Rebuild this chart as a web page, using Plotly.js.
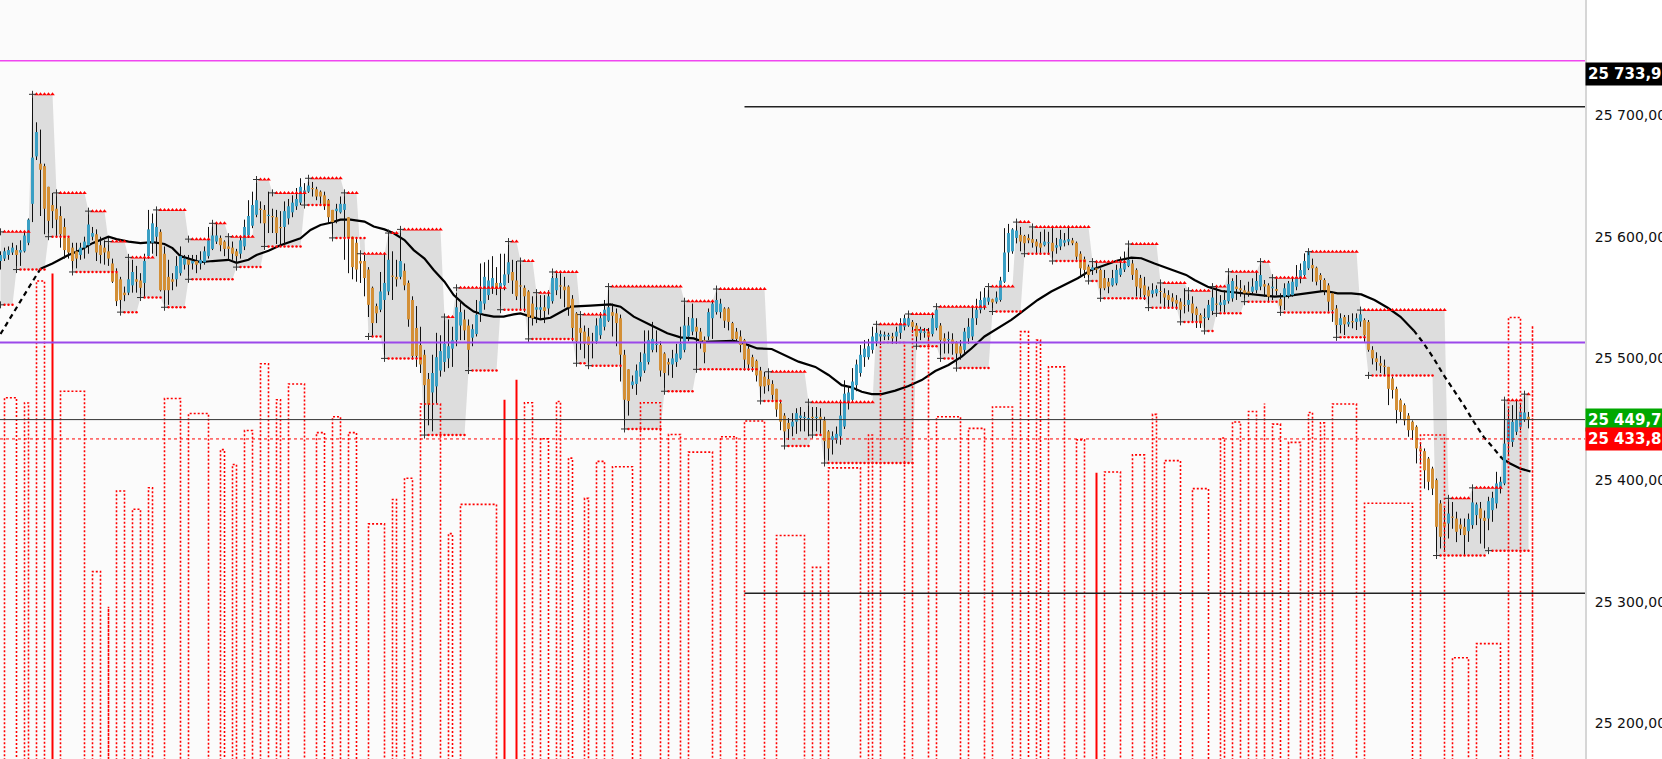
<!DOCTYPE html>
<html>
<head>
<meta charset="utf-8">
<script src="https://cdn.plot.ly/plotly-3.0.1.min.js"></script>
<style>
  html, body { margin: 0; padding: 0; background: #fff; }
  #chart { width: 1662px; height: 759px; }
</style>
</head>
<body>
<div id="chart"></div>
<script>
// one row per bar: [open, high, low, close]
var bars = [
  [25580,25588,25573,25585],[25582,25591,25580,25588],[25585,25592,25581,25589],[25587,25595,25585,25591],
  [25589,25593,25573,25585],[25587,25597,25576,25589],[25588,25604,25587,25601],[25595,25615,25593,25614],
  [25627,25717,25612,25665],[25666,25694,25663,25686],[25660,25688,25617,25655],[25658,25660,25602,25623],
  [25641,25641,25600,25613],[25626,25636,25607,25621],[25623,25636,25600,25614],[25617,25625,25591,25602],
  [25608,25615,25582,25589],[25599,25600,25582,25587],[25591,25595,25570,25580],[25588,25595,25574,25582],
  [25585,25595,25581,25591],[25591,25600,25582,25596],[25593,25621,25586,25610],[25600,25608,25597,25603],
  [25602,25606,25580,25587],[25593,25600,25578,25585],[25591,25597,25577,25587],[25588,25595,25576,25582],
  [25578,25582,25562,25563],[25570,25574,25543,25547],[25565,25567,25538,25548],[25554,25559,25547,25552],
  [25554,25584,25552,25565],[25560,25581,25554,25571],[25565,25576,25554,25563],[25564,25570,25551,25558],
  [25562,25586,25550,25580],[25584,25622,25582,25606],[25595,25619,25586,25611],[25600,25621,25584,25608],
  [25604,25606,25555,25556],[25586,25592,25542,25556],[25567,25581,25544,25556],[25565,25570,25556,25563],
  [25565,25584,25559,25576],[25570,25592,25568,25584],[25577,25585,25573,25582],[25581,25585,25565,25577],
  [25578,25585,25573,25580],[25580,25585,25570,25577],[25578,25588,25573,25581],[25579,25592,25577,25588],
  [25584,25608,25582,25597],[25590,25610,25589,25601],[25596,25612,25594,25601],[25599,25601,25588,25593],
  [25596,25597,25584,25590],[25592,25600,25581,25590],[25591,25596,25581,25586],[25588,25590,25575,25584],
  [25586,25600,25582,25597],[25592,25614,25589,25608],[25601,25630,25599,25617],[25609,25637,25607,25626],
  [25618,25647,25616,25630],[25623,25629,25611,25622],[25622,25626,25592,25611],[25617,25637,25603,25618],
  [25617,25623,25603,25616],[25616,25622,25594,25603],[25608,25621,25592,25607],[25608,25629,25593,25621],
  [25615,25631,25610,25625],[25620,25634,25616,25628],[25625,25640,25622,25631],[25628,25648,25626,25641],
  [25636,25644,25625,25638],[25637,25648,25636,25642],[25640,25645,25633,25639],[25639,25641,25630,25633],
  [25637,25638,25627,25633],[25634,25637,25622,25625],[25630,25631,25611,25616],[25622,25622,25599,25612],
  [25621,25627,25611,25623],[25620,25633,25619,25627],[25622,25636,25581,25627],[25616,25616,25570,25599],
  [25600,25600,25565,25575],[25595,25599,25563,25573],[25580,25586,25562,25578],[25580,25585,25551,25566],
  [25573,25575,25534,25544],[25558,25559,25518,25529],[25543,25545,25529,25537],[25540,25571,25538,25555],
  [25548,25586,25499,25562],[25555,25603,25552,25581],[25568,25588,25548,25567],[25567,25581,25559,25565],
  [25567,25607,25565,25580],[25572,25578,25556,25560],[25562,25564,25526,25532],[25548,25551,25499,25502],
  [25525,25543,25493,25502],[25511,25526,25488,25495],[25503,25507,25437,25478],[25483,25488,25445,25462],
  [25472,25503,25440,25488],[25477,25521,25463,25501],[25490,25519,25485,25506],[25497,25534,25489,25512],
  [25500,25532,25492,25510],[25508,25526,25493,25515],[25515,25554,25510,25542],[25527,25548,25515,25538],
  [25532,25540,25515,25523],[25527,25532,25489,25507],[25517,25528,25510,25524],[25520,25548,25518,25536],
  [25537,25578,25530,25547],[25545,25579,25540,25567],[25552,25581,25548,25564],[25558,25584,25553,25566],
  [25562,25575,25552,25557],[25558,25586,25541,25562],[25560,25586,25556,25569],[25569,25597,25562,25579],
  [25571,25581,25553,25564],[25564,25580,25548,25551],[25560,25581,25540,25559],[25558,25560,25538,25551],
  [25555,25556,25515,25534],[25545,25551,25527,25533],[25540,25553,25529,25542],[25540,25552,25532,25542],
  [25542,25552,25529,25539],[25541,25556,25536,25551],[25547,25568,25545,25566],[25556,25570,25552,25566],
  [25560,25570,25549,25559],[25559,25567,25542,25556],[25559,25560,25535,25542],[25549,25552,25514,25525],
  [25537,25538,25495,25514],[25525,25537,25507,25521],[25522,25527,25500,25512],[25518,25525,25493,25511],
  [25514,25521,25500,25513],[25514,25533,25512,25527],[25519,25538,25516,25533],[25526,25548,25523,25540],
  [25531,25559,25530,25542],[25538,25545,25518,25535],[25537,25541,25510,25529],[25533,25536,25481,25503],
  [25503,25507,25441,25466],[25491,25491,25453,25465],[25478,25486,25475,25481],[25479,25495,25470,25490],
  [25485,25505,25481,25497],[25490,25523,25488,25504],[25497,25523,25495,25515],[25507,25530,25505,25516],
  [25511,25523,25505,25512],[25511,25514,25485,25490],[25504,25505,25473,25488],[25497,25500,25486,25495],
  [25495,25507,25484,25500],[25497,25512,25493,25504],[25500,25526,25499,25512],[25507,25547,25505,25527],
  [25518,25534,25514,25527],[25522,25545,25519,25533],[25526,25533,25490,25522],[25522,25525,25508,25514],
  [25515,25518,25496,25505],[25518,25541,25515,25538],[25533,25548,25516,25545],[25538,25557,25536,25548],
  [25538,25549,25533,25545],[25541,25542,25525,25531],[25541,25542,25523,25530],[25529,25530,25514,25516],
  [25522,25525,25514,25516],[25518,25523,25505,25511],[25515,25516,25490,25499],[25508,25511,25490,25495],
  [25501,25503,25489,25493],[25498,25499,25481,25486],[25490,25493,25464,25477],[25485,25489,25471,25477],
  [25483,25489,25473,25478],[25479,25482,25466,25470],[25475,25475,25452,25458],[25463,25466,25441,25448],
  [25453,25455,25427,25440],[25447,25451,25433,25442],[25444,25455,25436,25448],[25448,25459,25438,25455],
  [25451,25460,25440,25453],[25451,25456,25440,25452],[25450,25464,25436,25451],[25452,25460,25436,25451],
  [25451,25460,25440,25452],[25452,25459,25438,25450],[25449,25452,25414,25432],[25440,25441,25416,25426],
  [25433,25440,25421,25436],[25433,25444,25430,25438],[25436,25466,25429,25453],[25444,25482,25442,25471],
  [25464,25477,25458,25472],[25466,25492,25464,25481],[25478,25499,25473,25495],[25488,25511,25485,25503],
  [25501,25515,25493,25508],[25501,25516,25499,25510],[25507,25526,25504,25518],[25514,25528,25510,25521],
  [25518,25523,25511,25520],[25518,25522,25515,25519.5],[25518.5,25521,25515,25519],[25518,25521,25512,25516.5],
  [25518,25526,25512,25522],[25521,25533,25516,25529],[25526,25536,25523,25533],[25527,25536.5,25526,25533],
  [25530,25531.5,25521,25526],[25527,25529,25508,25518],[25521,25526,25515,25524],[25521,25525,25517,25522],
  [25522,25525,25515,25518],[25520,25537,25518,25533],[25525,25542.5,25523,25540],[25527,25529,25499,25515],
  [25516.5,25520.6,25504,25514],[25515,25522,25504,25516],[25515.5,25520.6,25503,25512],[25513,25514,25492,25504],
  [25510,25515,25499,25504],[25507,25525,25504,25522],[25516.5,25533,25512,25526],[25518,25542.5,25515,25533],
  [25533,25549,25527.5,25540],[25540,25555,25537,25548],[25542.5,25558,25540,25550],[25546.6,25560,25544,25550],
  [25548.6,25549,25538,25546],[25546.6,25555,25545,25550],[25548,25567,25546.6,25564],[25563,25607,25562,25587],
  [25587,25610.5,25571,25603],[25588,25607,25586,25606],[25599,25612.4,25594.5,25605],[25601.5,25608,25588,25596],
  [25600.6,25601.5,25585,25594.6],[25599,25602,25594.6,25597],[25598,25607,25591,25595],[25596,25598,25586,25592],
  [25594.6,25604,25586,25591],[25593,25606,25592,25596],[25594.6,25604,25585,25595.4],[25595,25607,25579.5,25588],
  [25591,25599,25586,25593],[25592,25605.6,25589,25598],[25595,25603,25592,25597],[25596,25609,25593,25598],
  [25597,25599,25593,25594.6],[25595,25596,25581,25583.6],[25586,25588,25567,25574],[25581.5,25583.6,25566,25572.7],
  [25575.4,25577,25563,25568.6],[25572.7,25581,25568.6,25574.8],[25574,25580,25570,25573],[25572.7,25574,25548,25557.6],
  [25566,25572.7,25556,25557.6],[25563,25566,25553.5,25559],[25560,25572.7,25559,25566],[25561.7,25577,25560,25572.7],
  [25568.6,25583.6,25567,25574],[25573,25587.8,25571,25578],[25576,25594,25575,25581],[25578,25581,25564.5,25568.6],
  [25572.7,25574,25550.8,25559],[25566,25568.6,25549.4,25557.6],[25560,25567,25548,25552],[25556,25559,25541,25551],
  [25553,25561.7,25550,25556],[25553.5,25560,25551,25557],[25555.4,25561,25545,25554.6],[25553.5,25557.6,25541,25550],
  [25552,25556,25541,25548],[25550,25553.5,25541,25546.6],[25548,25552,25540,25545],[25546.6,25549.4,25530,25540],
  [25544,25557.6,25537,25543],[25544,25557.6,25538.4,25548],[25545,25551,25530,25537],[25541,25542.5,25525,25535.6],
  [25535.6,25537,25525,25528.8],[25533,25541,25522,25534],[25533.4,25548,25531.5,25544],[25539,25557.6,25535.6,25550],
  [25545,25559,25537,25544],[25543.8,25552,25538.4,25546],[25544,25556,25537,25548],[25547,25572,25545,25561],
  [25549.3,25565.8,25546.6,25563.6],[25559,25568.5,25548,25557],[25557.6,25564.4,25550.7,25556],[25556,25560,25546,25553.5],
  [25555,25563,25550.7,25553.5],[25554.8,25565.8,25552,25559],[25556,25571.2,25553.5,25563.6],[25559,25579.5,25556,25568.5],
  [25561,25564.4,25550.7,25559],[25560,25561.7,25546.6,25550.7],[25558,25567,25548,25558.5],[25557,25565.8,25552,25555.4],
  [25548.8,25553.5,25537,25543.3],[25550.7,25561.7,25539.7,25557.6],[25551.5,25563.6,25549.3,25561.7],[25552,25566.3,25550.7,25563],
  [25558.9,25576.7,25556,25567],[25565.8,25578,25561.7,25572.6],[25568.5,25586.3,25565.8,25580],[25574,25589,25572.6,25587.7],
  [25576.7,25582,25563,25574],[25574.5,25575.4,25560,25563],[25568.5,25570,25554.8,25564.4],[25564.4,25565.8,25552,25556],
  [25560,25561.7,25538.4,25546.6],[25553.5,25554.8,25530,25539.7],[25541,25543.8,25516.5,25527.4],[25527.4,25537,25520.6,25533],
  [25534,25535.6,25519.2,25528],[25528,25535.6,25526,25530],[25530.7,25537,25524.7,25529.6],[25530,25537,25523.3,25532.9],
  [25530.3,25539.7,25526,25536.2],[25531.5,25532.9,25513.7,25519],[25530,25531.5,25505.5,25507],[25507,25510,25495,25500],
  [25500,25505,25490,25497],[25496,25502,25488,25494],[25494,25499,25486,25493],[25493,25493,25461.6,25475],
  [25483.5,25485,25467,25474],[25475,25476.7,25446.6,25457.5],[25465.7,25467,25450,25456],[25461.6,25463,25445,25449],
  [25453,25455,25435.6,25441],[25448,25449,25433,25441],[25443.8,25445,25413.7,25426],[25426,25431,25413,25424],
  [25423.8,25426,25393,25408],[25417.7,25419,25391.7,25398.6],[25409.5,25411,25387.7,25393],[25400,25401.3,25338.3,25361.6],
  [25380.8,25383.5,25343.8,25353.4],[25365,25377,25341,25362],[25364.3,25386.3,25352,25372.5],[25370,25382,25360,25369],
  [25368.4,25374,25349,25357.5],[25363.5,25368.4,25354.8,25360],[25361.6,25368.4,25338.3,25354.8],[25358,25372.5,25349.2,25367.9],
  [25363,25393,25360,25381.6],[25371.2,25381.6,25363,25380],[25376.7,25382,25347.8,25368.4],[25369,25375,25343.8,25366.5],
  [25368.4,25386.3,25358.8,25382.7],[25375.3,25390.4,25365.7,25385.4],[25380.8,25406.8,25376.7,25397.2],[25393,25402.7,25389,25398.6],
  [25397.2,25466.5,25395.8,25430],[25431.4,25458.8,25420.5,25449.3],[25431.4,25461.6,25427.3,25447.9],[25439.7,25465.7,25437,25449.3],
  [25443.8,25463,25441,25456],[25449.3,25471.2,25447.9,25455.6],[25452,25456,25442.5,25449.7]
];

// range box: upper and lower levels, each holds from its start bar to the next start
var upperStart = [0, 8, 14, 22, 27, 32, 39, 47, 53, 57, 64, 68, 77, 86, 90, 97, 100, 111, 114, 127, 130, 134, 138, 145, 152,
  171, 179, 192, 202, 219, 227, 234, 247, 254, 258, 273, 282, 290, 297, 303, 307, 315, 318, 327, 340, 362, 368, 376, 381];
var upperLevel = [25604, 25717, 25636, 25621, 25596, 25583, 25622, 25598, 25611, 25600, 25647, 25636, 25648, 25636, 25586,
  25603, 25606, 25534, 25558, 25596, 25580, 25554, 25571, 25536, 25559, 25547, 25557, 25489, 25464, 25528, 25536.5, 25542.5,
  25559, 25612, 25608, 25579.5, 25594, 25562, 25555.6, 25559, 25571.2, 25579.5, 25566.3, 25587.7, 25539.7, 25385, 25393.6,
  25465.7, 25470.6];
var lowerStart = [0, 4, 12, 18, 30, 35, 41, 47, 59, 66, 76, 83, 92, 96, 106, 117, 125, 132, 144, 147, 156, 166, 174, 190,
  196, 203, 206, 229, 235, 239, 248, 256, 263, 272, 275, 287, 295, 301, 304, 311, 320, 334, 342, 359, 372];
var lowerLevel = [25544, 25573, 25600, 25571, 25538, 25550, 25542, 25565, 25575, 25592, 25626, 25599, 25518, 25500, 25437,
  25490, 25540, 25516, 25496, 25494, 25442, 25473, 25491, 25465, 25428, 25437, 25414, 25510, 25500, 25492, 25538.5, 25586,
  25580, 25563.6, 25549.4, 25541.7, 25530, 25522.5, 25537, 25546.6, 25537.8, 25517.3, 25486, 25338, 25342];

// red dotted blocks rising from the bottom (bar from, bar to, level)
var redFrom = [1, 6, 9, 15, 23, 27, 29, 33, 37, 41, 47, 55, 58, 61, 65, 69, 72, 79, 83, 87, 92, 98, 101, 105, 112, 115, 131,
  135, 139, 142, 146, 149, 153, 160, 167, 172, 180, 186, 194, 203, 207, 217, 220, 228, 234, 242, 248, 255, 259, 262, 269, 276,
  283, 288, 291, 298, 305, 308, 312, 316, 318, 322, 327, 330, 333, 341, 355, 363, 369, 377, 383];
var redTo = [4, 7, 11, 21, 25, 27, 31, 35, 38, 45, 52, 56, 59, 63, 67, 70, 76, 81, 85, 89, 96, 99, 103, 110, 113, 124, 133,
  137, 140, 143, 147, 151, 158, 165, 170, 178, 184, 191, 201, 205, 215, 218, 226, 232, 240, 246, 253, 257, 260, 266, 271, 280,
  286, 289, 295, 302, 306, 310, 314, 316, 320, 325, 328, 331, 339, 353, 361, 367, 375, 380, 383];
var redLevel = [25467.7, 25463.4, 25563.6, 25473, 25324.8, 25296, 25391, 25376, 25393.7, 25467, 25454.7, 25425, 25412.8,
  25440.7, 25495.6, 25466, 25479, 25439, 25452, 25439, 25364, 25384, 25401.5, 25462.5, 25356, 25380, 25463.5, 25434, 25464.6,
  25418, 25385, 25415.4, 25411, 25463.5, 25437.5, 25423, 25435.6, 25448.5, 25354.5, 25328.3, 25410, 25437, 25513, 25523.4,
  25452, 25442.5, 25460, 25522, 25515, 25493, 25433, 25406.7, 25420.7, 25454, 25416, 25393, 25434.6, 25447.7, 25456.4, 25463,
  25446, 25431, 25455.5, 25447, 25462.5, 25381, 25437, 25254, 25265.6, 25533.6, 25527];
var solidAt = [13, 126, 129, 274];
var solidLevel = [25569.7, 25466, 25482.5, 25406];

// moving average
var maX = [0, 2.5, 5, 7.5, 10, 13, 17, 20, 23, 27, 29, 32, 35, 38, 41, 43, 45, 50, 53, 57, 59, 62, 64, 67, 70, 72.5, 75,
  77.5, 80, 82.5, 85, 87.5, 91, 93.3, 96, 98.3, 101, 103.3, 106, 108.3, 111, 113.3, 116, 118.3, 121, 123.3, 125.8, 128.3,
  130, 132.5, 135, 137.5, 142.5, 147.5, 152.5, 155, 158.3, 162.5, 166.7, 170, 173.3, 175.8, 180, 183.3, 185.8, 189.2, 192.8,
  196, 199.5, 203.7, 207, 210.3, 212.8, 215.3, 217.8, 220.3, 223.7, 227, 230.3, 233.7, 237, 240.3, 242.8, 246, 249.3, 252.7,
  256, 259.3, 262.7, 266, 269.3, 272.7, 276, 279.3, 282.7, 285.2, 288.5, 292.7, 296.4, 298.5, 301.8, 305.2, 308.5, 311.8,
  315.2, 318.5, 321.8, 325.2, 328.5, 331, 334.3, 337.7, 340.2, 343.5, 346.8, 350, 353.3, 355.8, 358.3, 360.8, 363.3, 365.8,
  368.3, 370.8, 373.3, 375.4, 377.4, 379.9, 382.5];
var maY = [25520, 25533, 25547, 25560.5, 25573.6, 25578, 25585, 25589, 25594.7, 25600, 25598, 25596, 25594.7, 25595.6, 25594,
  25590.6, 25584, 25579, 25580, 25581, 25578.6, 25581, 25585, 25588.5, 25593, 25596, 25598.6, 25605.5, 25609.6, 25611.5, 25614,
  25614, 25612.4, 25608.3, 25606, 25602.8, 25597.3, 25589, 25582, 25572.7, 25563, 25552, 25544, 25538.5, 25535.7, 25534.3,
  25534.3, 25536.2, 25537, 25534.3, 25532, 25533.4, 25542.5, 25543.3, 25544.4, 25542.5, 25534.3, 25527.4, 25520.6, 25517.3,
  25516.4, 25513.5, 25514.2, 25514.5, 25512.3, 25508.2, 25507.7, 25502.8, 25497.3, 25493, 25486.4, 25478, 25476.2, 25472.6,
  25470.7, 25470.7, 25473.5, 25477.3, 25482.2, 25489.6, 25494.6, 25501.4, 25508.3, 25518, 25524.7, 25531.6, 25539.8, 25548,
  25554.9, 25560.3, 25565.8, 25572.7, 25576.8, 25580.4, 25582.8, 25582.3, 25578, 25573.2, 25568.6, 25564.4, 25558.9, 25555.4,
  25554.3, 25553.4, 25552, 25550.7, 25551.3, 25552.6, 25554.3, 25555.4, 25553.4, 25553.4, 25552.6, 25548, 25541.6, 25534.2,
  25523, 25512.3, 25500, 25486.2, 25474, 25461.6, 25448, 25435.5, 25426, 25417.7, 25413.6, 25409.5, 25407];
var maDashFrom = [0, 353.3];
var maDashTo = [10, 375.4];

var yTicks = [25200, 25300, 25400, 25500, 25600, 25700];

var n = bars.length;
var floorV = 25150;

function expandRuns(starts, levels) {
  var out = [], r = 0;
  for (var i = 0; i < n; i++) {
    while (r + 1 < starts.length && starts[r + 1] <= i) r++;
    out.push(levels[r]);
  }
  return out;
}
var upper = expandRuns(upperStart, upperLevel);
var lower = expandRuns(lowerStart, lowerLevel);
var idx = bars.map(function (b, i) { return i; });

// candle pieces
var wx = [], wy = [], ux = [], uy = [], dx = [], dy = [];
bars.forEach(function (b, i) {
  var o = b[0], h = b[1], l = b[2], c = b[3];
  wx.push(i, i, null); wy.push(l, h, null);
  var lo = Math.min(o, c), hi = Math.max(o, c);
  if (hi - lo < 0.8) { lo -= 0.4; hi += 0.4; }
  if (c >= o) { ux.push(i, i, null); uy.push(lo, hi, null); }
  else { dx.push(i, i, null); dy.push(hi, lo, null); }
});

// red step blocks
var rx = [], ry = [];
redFrom.forEach(function (a, k) {
  var b = redTo[k], v = redLevel[k];
  rx.push(a, a, b, b, null); ry.push(floorV, v, v, floorV, null);
});
var sx = [], sy = [];
solidAt.forEach(function (a, k) { sx.push(a, a, null); sy.push(floorV, solidLevel[k], null); });

// level markers
var triX = [], triY = [], dotX = [], dotY = [], crossX = [], crossY = [];
for (var i = 0; i < n; i++) {
  if (upperStart.indexOf(i) < 0) { triX.push(i); triY.push(upper[i]); }
  if (lowerStart.indexOf(i) < 0) { dotX.push(i); dotY.push(lower[i]); }
}
upperStart.forEach(function (s, k) { crossX.push(s); crossY.push(upperLevel[k]); });
lowerStart.forEach(function (s, k) { crossX.push(s); crossY.push(lowerLevel[k]); });

// moving average split into solid / dashed parts
var maSolid = [], maDash = [];
maX.forEach(function (x, k) {
  var inside = false, onEdge = false;
  for (var d = 0; d < maDashFrom.length; d++) {
    if (x > maDashFrom[d] && x < maDashTo[d]) inside = true;
    if (x === maDashFrom[d] || x === maDashTo[d]) onEdge = true;
  }
  maSolid.push(inside ? null : maY[k]);
  maDash.push(inside || onEdge ? maY[k] : null);
});

var data = [
  {type: 'scatter', x: idx, y: lower, mode: 'lines', line: {width: 0}, hoverinfo: 'skip'},
  {type: 'scatter', x: idx, y: upper, mode: 'lines', line: {width: 0}, fill: 'tonexty',
    fillcolor: '#dddddd', hoverinfo: 'skip'},
  {type: 'scatter', x: maX, y: maSolid, mode: 'lines', line: {color: '#000', width: 2.2}, hoverinfo: 'skip'},
  {type: 'scatter', x: maX, y: maDash, mode: 'lines', line: {color: '#000', width: 2.2, dash: '5px,4px'}, hoverinfo: 'skip'},
  {type: 'scatter', x: wx, y: wy, mode: 'lines', line: {color: '#111', width: 1}, hoverinfo: 'skip'},
  {type: 'scatter', x: ux, y: uy, mode: 'lines', line: {color: '#3a9fc4', width: 3}, hoverinfo: 'skip'},
  {type: 'scatter', x: dx, y: dy, mode: 'lines', line: {color: '#d38f36', width: 3}, hoverinfo: 'skip'},
  {type: 'scatter', x: rx, y: ry, mode: 'lines', line: {color: '#ff0000', width: 1.6, dash: '2px,2px'}, hoverinfo: 'skip'},
  {type: 'scatter', x: sx, y: sy, mode: 'lines', line: {color: '#ff0000', width: 2}, hoverinfo: 'skip'},
  {type: 'scatter', x: triX, y: triY, mode: 'markers', marker: {symbol: 'triangle-up', size: 4, color: '#ff0000'},
    hoverinfo: 'skip'},
  {type: 'scatter', x: dotX, y: dotY, mode: 'markers', marker: {symbol: 'circle', size: 2.5, color: '#ff0000'},
    hoverinfo: 'skip'},
  {type: 'scatter', x: crossX, y: crossY, mode: 'markers',
    marker: {symbol: 'cross-thin', size: 5, line: {color: '#333', width: 1}}, hoverinfo: 'skip'}
];

function hline(y, color, width, dash, x0, x1, xref) {
  return {type: 'line', xref: xref || 'paper', yref: 'y', x0: x0, x1: x1, y0: y, y1: y, layer: 'above',
    line: {color: color, width: width, dash: dash || 'solid'}};
}

var layout = {
  width: 1662,
  height: 759,
  margin: {l: 0, r: 77, t: 0, b: 0, pad: 0},
  paper_bgcolor: '#ffffff',
  plot_bgcolor: '#fbfbfb',
  showlegend: false,
  hovermode: false,
  separators: ', ',
  xaxis: {range: [-0.125, 396.125], visible: false, fixedrange: true},
  yaxis: {
    range: [25170.8, 25794.5],
    side: 'right',
    tickvals: yTicks,
    tickformat: ',.2f',
    showgrid: false,
    zeroline: false,
    showline: true,
    linecolor: '#d6d6d6',
    linewidth: 2,
    ticks: 'outside',
    ticklen: 5,
    tickcolor: 'rgba(0,0,0,0)',
    tickfont: {family: 'DejaVu Sans', size: 14, color: '#111'},
    fixedrange: true
  },
  shapes: [
    hline(25744.6, '#f046f0', 1.5, null, 0, 1),
    hline(25706.8, '#222222', 1.5, null, 186, 396.125, 'x'),
    hline(25307, '#222222', 1.5, null, 186, 396.125, 'x'),
    hline(25513, '#9b48ea', 2, null, 0, 1),
    hline(25449.7, '#333333', 1, null, 0, 1),
    hline(25433.8, '#ff0000', 1, 'dot', 0, 1)
  ],
  annotations: [
    {text: '<b>25 733,9</b>', bgcolor: '#000000', y: 25733.9},
    {text: '<b>25 449,71</b>', bgcolor: '#00a800', y: 25449.71},
    {text: '<b>25 433,8</b>', bgcolor: '#ff0000', y: 25433.8}
  ].map(function (a) {
    return {xref: 'paper', x: 1, xanchor: 'left', yref: 'y', y: a.y, yanchor: 'middle', text: a.text,
      showarrow: false, bgcolor: a.bgcolor, borderpad: 2, width: 100, align: 'left',
      font: {family: 'DejaVu Sans', size: 15, color: '#ffffff'}};
  })
};

Plotly.newPlot('chart', data, layout, {displayModeBar: false, staticPlot: true});
</script>
</body>
</html>
